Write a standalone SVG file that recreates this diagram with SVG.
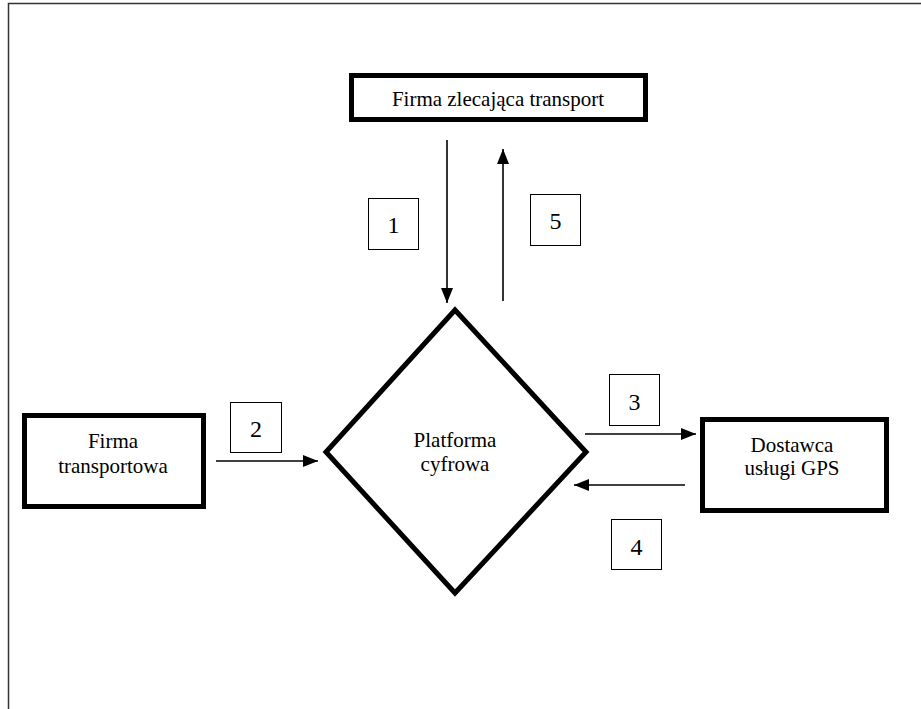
<svg xmlns="http://www.w3.org/2000/svg" width="921" height="709" viewBox="0 0 921 709">
<style>
.node{fill:#fff;stroke:#000;stroke-width:5}
.lbl{fill:#fff;stroke:#000;stroke-width:1}
.t{font-family:"Liberation Serif","Times New Roman",serif;font-size:21px;fill:#000;text-anchor:middle}
.n{font-family:"Liberation Serif","Times New Roman",serif;font-size:24px;fill:#000;text-anchor:middle}
.c{stroke:#000;stroke-width:1.6;fill:none}
</style>
<defs>
<marker id="ah" viewBox="0 0 15 12" refX="15" refY="6" markerWidth="15" markerHeight="12" markerUnits="userSpaceOnUse" orient="auto">
<path d="M0,0 L15,6 L0,12 Z" fill="#000"/>
</marker>
</defs>
<rect width="921" height="709" fill="#fff"/>
<path d="M8.5,709 V3.5 H921" fill="none" stroke="#333" stroke-width="1.5"/>
<g id="firma-zlecajaca">
<rect class="node" x="351.5" y="75.5" width="294" height="44"/>
<text class="t" x="498" y="106">Firma zlecająca transport</text>
</g>
<g id="platforma">
<polygon class="node" points="455,310 586,452 455,593 326,452" stroke-linejoin="miter"/>
<text class="t" x="455" y="447">Platforma</text>
<text class="t" x="455" y="471">cyfrowa</text>
</g>
<g id="firma-transportowa">
<rect class="node" x="24.5" y="415.5" width="179" height="91"/>
<text class="t" x="113" y="448">Firma</text>
<text class="t" x="113" y="473">transportowa</text>
</g>
<g id="dostawca-gps">
<rect class="node" x="702.5" y="419.5" width="184" height="91"/>
<text class="t" x="792" y="452">Dostawca</text>
<text class="t" x="792" y="475">usługi GPS</text>
</g>
<g id="connectors">
<line class="c" x1="447" y1="140" x2="447" y2="303" marker-end="url(#ah)"/>
<line class="c" x1="503" y1="301" x2="503" y2="149" marker-end="url(#ah)"/>
<line class="c" x1="216" y1="461" x2="318" y2="461" marker-end="url(#ah)"/>
<line class="c" x1="585" y1="434" x2="696" y2="434" marker-end="url(#ah)"/>
<line class="c" x1="685" y1="485" x2="574" y2="485" marker-end="url(#ah)"/>
</g>
<g id="label-1">
<rect class="lbl" x="368.5" y="198.5" width="50" height="51"/>
<text class="n" x="393.5" y="233">1</text>
</g>
<g id="label-5">
<rect class="lbl" x="530.5" y="194.5" width="50" height="51"/>
<text class="n" x="555.5" y="229">5</text>
</g>
<g id="label-2">
<rect class="lbl" x="230.5" y="402.5" width="51" height="50"/>
<text class="n" x="256" y="437">2</text>
</g>
<g id="label-3">
<rect class="lbl" x="609.5" y="374.5" width="50" height="51"/>
<text class="n" x="634.5" y="410">3</text>
</g>
<g id="label-4">
<rect class="lbl" x="611.5" y="519.5" width="50" height="50"/>
<text class="n" x="636.5" y="555">4</text>
</g>
</svg>
